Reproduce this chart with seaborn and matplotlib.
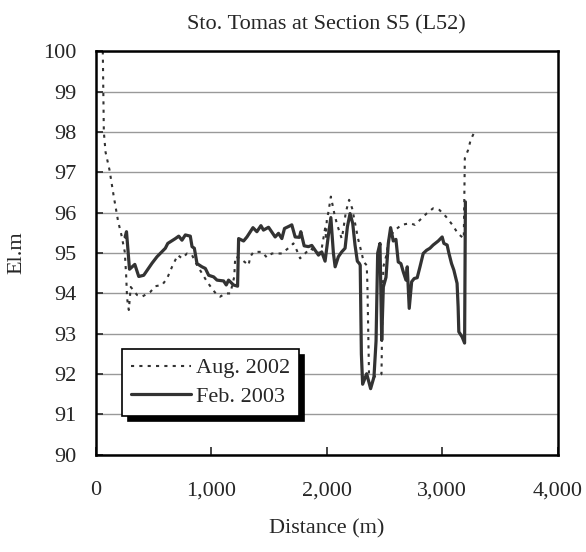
import pandas as pd
import matplotlib
matplotlib.use("Agg")
import matplotlib.pyplot as plt
import seaborn as sns
from matplotlib.ticker import FuncFormatter, MultipleLocator

# Survey of the river cross-section (distance in m, elevation in m)
aug_dist = [63, 72, 87, 121, 158, 196, 224, 253, 265, 273, 288, 305, 360, 403, 475,
            518, 576, 619, 662, 711, 748, 792, 835, 878, 921, 965, 1008, 1051, 1079,
            1123, 1166, 1200, 1209, 1252, 1324, 1339, 1367, 1439, 1483, 1526, 1612,
            1684, 1712, 1741, 1770, 1813, 1857, 1900, 1950, 1986, 1994, 2001, 2015,
            2036, 2066, 2087, 2110, 2130, 2143, 2166, 2194, 2220, 2243, 2271, 2300,
            2320, 2346, 2352, 2358, 2366, 2403, 2474, 2478, 2490, 2513, 2542, 2591,
            2648, 2720, 2763, 2821, 2864, 2921, 2975, 3033, 3090, 3134, 3186, 3195,
            3224, 3245, 3276]
aug_elev = [100.0, 98.0, 97.5, 97.06, 96.4, 95.78, 95.45, 95.03, 94.45, 93.88, 93.59,
            94.16, 93.96, 93.92, 94.04, 94.18, 94.21, 94.37, 94.66, 94.95, 94.87, 94.99,
            94.95, 94.7, 94.5, 94.29, 94.12, 93.96, 93.92, 94.0, 94.0, 94.41, 94.91,
            94.87, 94.7, 94.91, 95.03, 95.03, 94.89, 94.99, 94.99, 95.16, 95.24, 95.07,
            94.87, 94.99, 95.12, 95.05, 95.0, 95.61, 95.4, 95.82, 96.02, 96.4, 95.98,
            95.74, 95.53, 95.36, 95.57, 96.02, 96.32, 96.11, 95.78, 95.36, 95.03, 94.78,
            94.7, 94.25, 93.26, 92.01, 91.93, 92.0, 92.84, 94.66, 94.91, 95.4, 95.57,
            95.7, 95.74, 95.7, 95.86, 95.98, 96.11, 96.07, 95.9, 95.69, 95.49, 95.36,
            97.35, 97.56, 97.8, 97.99]

feb_dist = [256, 268, 294, 340, 374, 417, 489, 532, 604, 625, 691, 720, 748, 777, 820,
            835, 855, 878, 921, 950, 979, 1022, 1051, 1108, 1131, 1151, 1194, 1229,
            1238, 1281, 1310, 1362, 1396, 1431, 1453, 1497, 1554, 1583, 1612, 1635,
            1678, 1698, 1727, 1764, 1776, 1805, 1842, 1871, 1900, 1929, 1957, 1986,
            2015, 2036, 2058, 2073, 2101, 2130, 2159, 2179, 2202, 2225, 2245, 2265,
            2283, 2290, 2300, 2311, 2346, 2380, 2409, 2427, 2441, 2461, 2476, 2490,
            2513, 2533, 2553, 2576, 2599, 2619, 2642, 2662, 2686, 2697, 2714, 2735,
            2757, 2783, 2807, 2835, 2864, 2893, 2921, 2965, 2999, 3014, 3042, 3057,
            3080, 3100, 3128, 3137, 3143, 3172, 3193, 3200]
feb_elev = [95.4, 95.53, 94.6, 94.72, 94.42, 94.45, 94.75, 94.91, 95.12, 95.24, 95.36,
            95.42, 95.32, 95.45, 95.42, 95.16, 95.12, 94.74, 94.66, 94.62, 94.45, 94.41,
            94.33, 94.31, 94.21, 94.33, 94.21, 94.18, 95.36, 95.3, 95.4, 95.63, 95.53,
            95.68, 95.57, 95.64, 95.4, 95.49, 95.36, 95.61, 95.67, 95.7, 95.4, 95.39,
            95.53, 95.18, 95.16, 95.19, 95.07, 94.95, 95.03, 94.8, 95.45, 95.88, 95.0,
            94.66, 94.91, 95.03, 95.12, 95.65, 95.98, 95.74, 95.2, 94.8, 94.74, 94.7,
            92.5, 91.75, 92.01, 91.64, 91.93, 92.82, 95.0, 95.24, 92.84, 94.16, 94.4,
            95.24, 95.63, 95.3, 95.34, 94.78, 94.74, 94.54, 94.33, 94.66, 93.63, 94.29,
            94.37, 94.39, 94.66, 94.99, 95.07, 95.12, 95.2, 95.3, 95.4, 95.24, 95.2,
            95.0, 94.74, 94.58, 94.25, 93.67, 93.05, 92.92, 92.77, 96.27]

aug = pd.DataFrame({"Distance": aug_dist, "El": aug_elev})
feb = pd.DataFrame({"Distance": feb_dist, "El": feb_elev})

sns.set_style("white")
plt.rcParams["font.family"] = ["Liberation Serif", "DejaVu Serif"]

fig = plt.figure(figsize=(5.86, 5.52), dpi=100)
ax = fig.add_axes([0.163, 0.176, 0.789, 0.731])

sns.lineplot(data=aug, x="Distance", y="El", ax=ax, estimator=None, sort=False,
             color="#333333", linewidth=1.5, linestyle=(0, (1.5, 2.5)),
             label="Aug. 2002")
sns.lineplot(data=feb, x="Distance", y="El", ax=ax, estimator=None, sort=False,
             color="#333333", linewidth=2.3, label="Feb. 2003")

ax.set_xlim(0, 4000)
ax.set_ylim(90, 100)
ax.xaxis.set_major_locator(MultipleLocator(1000))
ax.yaxis.set_major_locator(MultipleLocator(1))
ax.xaxis.set_major_formatter(FuncFormatter(lambda v, p: f"{int(v):,}"))
ax.grid(axis="y", color="#999999", linewidth=1.0)
ax.grid(axis="x", visible=False)
ax.set_axisbelow(True)

for s in ax.spines.values():
    s.set_visible(True)
    s.set_color("black")
    s.set_linewidth(1.8)

ax.tick_params(axis="x", direction="in", length=6, width=1.2, labelsize=16, pad=19)
ax.tick_params(axis="y", direction="in", length=5, width=1.2, labelsize=16, pad=14, left=True)
ax.tick_params(axis="x", bottom=True)

ax.set_title("Sto. Tomas at Section S5 (L52)", fontsize=16, pad=16)
ax.set_xlabel("Distance (m)", fontsize=16, labelpad=14)
ax.set_ylabel("El.m", fontsize=16, labelpad=12)

leg = ax.legend(loc="lower left", bbox_to_anchor=(0.058, 0.097), fontsize=16,
                frameon=True, fancybox=False, framealpha=1, edgecolor="black",
                handlelength=2.7, handletextpad=0.2, borderpad=0.4, labelspacing=0.35,
                borderaxespad=0,
                shadow={"ox": 4, "oy": -4, "color": "black", "alpha": 1})
leg.get_frame().set_linewidth(1.2)

fig.savefig("out.png", dpi=100)
